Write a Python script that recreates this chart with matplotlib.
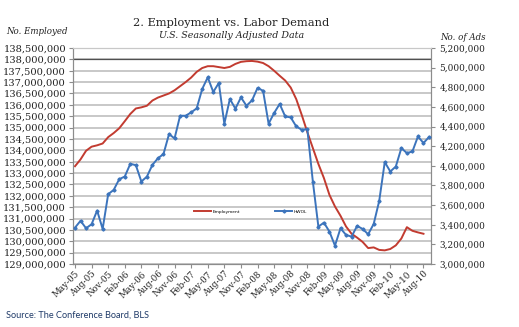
import matplotlib
matplotlib.use("Agg")
import matplotlib.pyplot as plt
from matplotlib.ticker import FuncFormatter, MultipleLocator

# monthly, May-05 .. Aug-10 (millions of employed)
employment = [
    133.30, 133.60, 133.98, 134.16, 134.22, 134.30, 134.58, 134.76, 134.97, 135.28,
    135.60, 135.84, 135.89, 135.96, 136.19, 136.32, 136.41, 136.50, 136.64, 136.82,
    137.00, 137.20, 137.45, 137.62, 137.70, 137.70, 137.66, 137.62, 137.67, 137.80,
    137.89, 137.92, 137.93, 137.90, 137.84, 137.70, 137.50, 137.28, 137.07, 136.76,
    136.25, 135.55, 134.80, 134.10, 133.40, 132.78, 132.04, 131.53, 131.12, 130.65,
    130.33, 130.16, 129.97, 129.70, 129.73, 129.62, 129.60, 129.66, 129.82, 130.12,
    130.62, 130.46, 130.39, 130.33,
]
# monthly, May-05 .. Sep-10 (millions of online ads)
hwol = [
    3.370, 3.440, 3.364, 3.405, 3.544, 3.357, 3.711, 3.755, 3.864, 3.891,
    4.020, 4.007, 3.840, 3.890, 4.010, 4.077, 4.120, 4.323, 4.279, 4.510,
    4.510, 4.544, 4.585, 4.783, 4.901, 4.752, 4.844, 4.429, 4.681, 4.582,
    4.697, 4.612, 4.666, 4.793, 4.765, 4.429, 4.538, 4.630, 4.503, 4.493,
    4.401, 4.367, 4.374, 3.840, 3.381, 3.421, 3.330, 3.187, 3.364, 3.296,
    3.279, 3.388, 3.357, 3.303, 3.408, 3.643, 4.038, 3.942, 3.993, 4.180,
    4.130, 4.146, 4.299, 4.232, 4.293,
]
tick_labels = [
    "May-05", "Aug-05", "Nov-05", "Feb-06", "May-06", "Aug-06", "Nov-06", "Feb-07",
    "May-07", "Aug-07", "Nov-07", "Feb-08", "May-08", "Aug-08", "Nov-08", "Feb-09",
    "May-09", "Aug-09", "Nov-09", "Feb-10", "May-10", "Aug-10",
]

red = "#C23B30"
blue = "#3C74BC"
serif = "DejaVu Serif"

fig = plt.figure(figsize=(5.19, 3.27), dpi=100)
ax = fig.add_axes([73 / 519, 1 - 264 / 327, 358 / 519, 216 / 327])
ax2 = ax.twinx()

x_emp = range(len(employment))
x_hwol = range(len(hwol))
l1, = ax.plot(x_emp, [v * 1e6 for v in employment], color=red, lw=1.4, label="Employment", zorder=3)
l2, = ax2.plot(x_hwol, [v * 1e6 for v in hwol], color=blue, lw=1.4, marker="D", ms=1.6,
               label="HWOL", zorder=3)

ax.set_xlim(-0.36, len(hwol) - 1 + 0.36)
ax.set_ylim(129e6, 138.5e6)
ax2.set_ylim(3e6, 5.2e6)
ax.yaxis.set_major_locator(MultipleLocator(500000))
ax2.yaxis.set_major_locator(MultipleLocator(200000))
comma = FuncFormatter(lambda v, p: f"{int(round(v)):,}")
ax.yaxis.set_major_formatter(comma)
ax2.yaxis.set_major_formatter(comma)

ax.set_xticks(range(0, 3 * len(tick_labels), 3))
ax.set_xticklabels(tick_labels, rotation=45, ha="right", rotation_mode="anchor",
                   family=serif, fontsize=6.3)

for lab in ax.get_yticklabels():
    lab.set_family(serif)
    lab.set_fontsize(7.1)
for lab in ax2.get_yticklabels():
    lab.set_family(serif)
    lab.set_fontsize(6.4)

ax.yaxis.grid(True, color="#C8C8C8", lw=1.4)
ax.set_axisbelow(True)
ax.axhline(138e6, color="#505050", lw=0.9, zorder=2)

for a in (ax, ax2):
    for s in ("left", "bottom", "right"):
        a.spines[s].set_color("#8C8C8C")
    a.spines["top"].set_color("#C8C8C8")
    a.tick_params(colors="#8C8C8C", length=3, width=0.8, labelcolor="#222222")
ax.tick_params(axis="y", pad=2)
ax2.tick_params(axis="y", pad=3)
ax.tick_params(axis="x", pad=1)

leg = ax.legend([l1, l2], ["Employment", "HWOL"], ncol=2, loc="center",
                bbox_to_anchor=(0.496, 0.242), frameon=False, fontsize=3.2,
                handlelength=3.8, handletextpad=0.3, columnspacing=8)

fig.text(0.446, 1 - 23 / 327, "2. Employment vs. Labor Demand", ha="center", va="center",
         family=serif, fontsize=8.2, color="#222222")
fig.text(0.446, 1 - 35 / 327, "U.S. Seasonally Adjusted Data", ha="center", va="center",
         family=serif, style="italic", fontsize=6.8, color="#222222")
fig.text(6 / 519, 1 - 32 / 327, "No. Employed", ha="left", va="center",
         family=serif, style="italic", fontsize=6.2, color="#222222")
fig.text(440 / 519, 1 - 37 / 327, "No. of Ads", ha="left", va="center",
         family=serif, style="italic", fontsize=6.2, color="#222222")
fig.text(6 / 519, 1 - 315 / 327, "Source: The Conference Board, BLS", ha="left", va="center",
         family="Lato", fontsize=6.6, color="#1F3A68")

fig.savefig("out.png", dpi=100)
